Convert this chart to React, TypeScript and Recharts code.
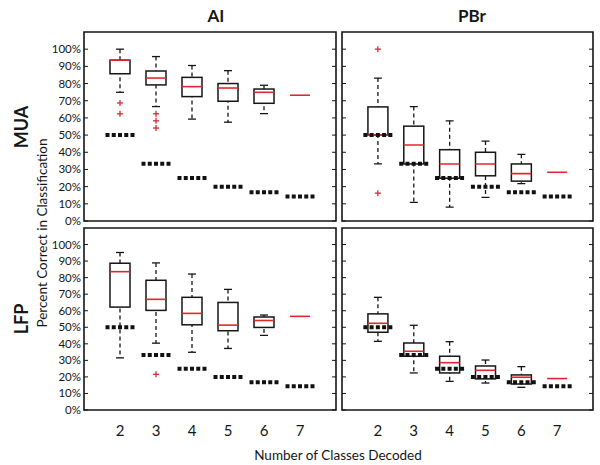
import React from 'react';
import { ComposedChart, Bar, Scatter, XAxis, YAxis, ReferenceArea } from 'recharts';

// classes decoded (x positions)
const classes = [2, 3, 4, 5, 6, 7];
// chance level for each number of classes
const chanceLevel = [0.5, 0.333, 0.25, 0.2, 0.167, 0.143];
const yTicks = [0, 0.1, 0.2, 0.3, 0.4, 0.5, 0.6, 0.7, 0.8, 0.9, 1.0];
const xTicks = [2, 3, 4, 5, 6, 7];

// MUA / AI
const muaAiLow = [0.749, 0.666, 0.593, 0.575, 0.625, null];
const muaAiQ1 = [0.857, 0.792, 0.724, 0.697, 0.685, null];
const muaAiMed = [0.936, 0.832, 0.782, 0.774, 0.749, 0.732];
const muaAiQ3 = [0.936, 0.873, 0.836, 0.8, 0.768, null];
const muaAiHigh = [1.0, 0.957, 0.905, 0.875, 0.79, null];
const muaAiOut = [
    { cls: 2, v: 0.687 }, { cls: 2, v: 0.624 },
    { cls: 3, v: 0.624 }, { cls: 3, v: 0.583 }, { cls: 3, v: 0.541 },
];

// MUA / PBr
const muaPbrLow = [0.332, 0.108, 0.081, 0.137, 0.218, null];
const muaPbrQ1 = [0.5, 0.332, 0.249, 0.263, 0.232, null];
const muaPbrMed = [0.5, 0.442, 0.332, 0.332, 0.276, 0.284];
const muaPbrQ3 = [0.664, 0.552, 0.415, 0.4, 0.332, null];
const muaPbrHigh = [0.832, 0.666, 0.583, 0.465, 0.388, null];
const muaPbrOut = [{ cls: 2, v: 1.0 }, { cls: 2, v: 0.162 }];

// LFP / AI
const lfpAiLow = [0.315, 0.404, 0.349, 0.372, 0.451, null];
const lfpAiQ1 = [0.622, 0.602, 0.515, 0.479, 0.499, null];
const lfpAiMed = [0.836, 0.669, 0.584, 0.513, 0.541, 0.566];
const lfpAiQ3 = [0.887, 0.784, 0.681, 0.65, 0.562, null];
const lfpAiHigh = [0.952, 0.889, 0.822, 0.729, 0.574, null];
const lfpAiOut = [{ cls: 3, v: 0.216 }];

// LFP / PBr
const lfpPbrLow = [0.415, 0.224, 0.173, 0.163, 0.137, null];
const lfpPbrQ1 = [0.47, 0.325, 0.224, 0.188, 0.157, null];
const lfpPbrMed = [0.524, 0.355, 0.286, 0.24, 0.198, 0.19];
const lfpPbrQ3 = [0.581, 0.405, 0.325, 0.266, 0.212, null];
const lfpPbrHigh = [0.681, 0.512, 0.413, 0.302, 0.262, null];
const lfpPbrOut: { cls: number; v: number }[] = [];

const FONT = 'Lato, "Open Sans", sans-serif';
const INK = '#161616';
const RED = '#e3262d';

type Num = number | null;

const makeRows = (low: Num[], q1: Num[], med: Num[], q3: Num[], high: Num[]) =>
    classes.map((cls, i) => ({
        cls,
        whisker: low[i] == null ? null : [low[i], high[i]],
        box: q1[i] == null ? null : [q1[i], q3[i]],
        med: med[i],
        chance: chanceLevel[i],
    }));

const Whisker = (p: any) => {
    const { x, y, width, height } = p;
    if (![x, y, width, height].every((n) => Number.isFinite(n))) return null;
    const top = Math.min(y, y + height);
    const bot = Math.max(y, y + height);
    const cx = x + width / 2;
    return (
        <g>
            <line x1={cx} x2={cx} y1={top} y2={bot} stroke={INK} strokeWidth={1.3} strokeDasharray="4 3" />
            <line x1={x} x2={x + width} y1={top} y2={top} stroke={INK} strokeWidth={1.3} />
            <line x1={x} x2={x + width} y1={bot} y2={bot} stroke={INK} strokeWidth={1.3} />
        </g>
    );
};

const Box = (p: any) => {
    const { x, y, width, height } = p;
    if (![x, y, width, height].every((n) => Number.isFinite(n))) return null;
    return (
        <rect x={x} y={Math.min(y, y + height)} width={width} height={Math.abs(height)}
            fill="#fff" stroke={INK} strokeWidth={1.5} />
    );
};

const Median = (p: any) => {
    const { cx, cy } = p;
    if (!Number.isFinite(cy)) return null;
    return <line x1={cx - 10} x2={cx + 10} y1={cy} y2={cy} stroke={RED} strokeWidth={1.6} />;
};

const Chance = (p: any) => {
    const { cx, cy } = p;
    return <line x1={cx - 14.5} x2={cx + 14.5} y1={cy} y2={cy} stroke="#111" strokeWidth={4} strokeDasharray="4 2.25" />;
};

const Plus = (p: any) => {
    const { cx, cy } = p;
    return (
        <g stroke={RED} strokeWidth={1.3}>
            <line x1={cx - 3} x2={cx + 3} y1={cy} y2={cy} />
            <line x1={cx} x2={cx} y1={cy - 3} y2={cy + 3} />
        </g>
    );
};

const pct = (v: number) => `${Math.round(v * 100)}%`;

const TICK_GAP = 3;
// y tick: optional label outside, short tick mark pointing into the plot
const YTick = (p: any) => {
    const { x, y, payload, side, labels } = p;
    const ax = side === 'left' ? x + TICK_GAP : x - TICK_GAP;
    const inner = side === 'left' ? ax + 4 : ax - 4;
    return (
        <g>
            <line x1={ax} x2={inner} y1={y} y2={y} stroke={INK} strokeWidth={1} />
            {labels && (
                <text x={x} y={y} dy="0.35em" textAnchor="end" fontSize={11.5} fontFamily={FONT} fill={INK}>
                    {pct(payload.value)}
                </text>
            )}
        </g>
    );
};

interface PanelProps {
    rows: any[];
    outliers: { cls: number; v: number }[];
    left: number;
    top: number;
    width: number;
    height: number;
    yLabels: boolean;
    xLabels: boolean;
}

const Panel = ({ rows, outliers, left, top, width, height, yLabels, xLabels }: PanelProps) => (
    <div style={{ position: 'absolute', left, top }}>
        <ComposedChart width={width} height={height} data={rows}
            margin={{ top: 4, right: 4, bottom: xLabels ? 1 : 5, left: 4 }}>
            <XAxis xAxisId="m" dataKey="cls" type="number" domain={[1, 8]} ticks={xTicks} interval={0}
                height={xLabels ? 30 : 0} tick={xLabels ? { fill: INK, fontSize: 15, fontFamily: FONT } : false}
                tickLine={false} tickSize={0} tickMargin={15} axisLine={false} />
            <XAxis xAxisId="w" dataKey="cls" type="number" domain={[1, 8]} hide />
            <XAxis xAxisId="t" dataKey="cls" orientation="top" type="number" domain={[1, 8]} height={1}
                tick={false} tickLine={false} axisLine={false} />
            <YAxis yAxisId="l" type="number" domain={[0, 1.1]} ticks={yTicks} interval={0} allowDataOverflow
                width={yLabels ? 40 : 1} tickLine={false} tickSize={0} tickMargin={TICK_GAP} axisLine={false}
                tick={(props: any) => <YTick {...props} side="left" labels={yLabels} />} />
            <YAxis yAxisId="r" orientation="right" type="number" domain={[0, 1.1]} ticks={yTicks} interval={0}
                allowDataOverflow width={1} tickLine={false} tickSize={0} tickMargin={TICK_GAP} axisLine={false}
                tick={(props: any) => <YTick {...props} side="right" labels={false} />} />
            <ReferenceArea xAxisId="m" yAxisId="l" x1={1} x2={8} y1={0} y2={1.1}
                fill="none" stroke={INK} strokeWidth={1.6} />
            <Bar xAxisId="w" yAxisId="l" dataKey="whisker" barSize={8} shape={Whisker} isAnimationActive={false} />
            <Bar xAxisId="m" yAxisId="l" dataKey="box" barSize={20} shape={Box} isAnimationActive={false} />
            <Scatter xAxisId="m" yAxisId="l" dataKey="med" shape={Median} isAnimationActive={false} />
            <Scatter xAxisId="m" yAxisId="l" dataKey="chance" shape={Chance} isAnimationActive={false} />
            <Scatter xAxisId="m" yAxisId="l" data={outliers} dataKey="v" shape={Plus} isAnimationActive={false} />
        </ComposedChart>
    </div>
);

export default function App() {
    const muaAi = makeRows(muaAiLow, muaAiQ1, muaAiMed, muaAiQ3, muaAiHigh);
    const muaPbr = makeRows(muaPbrLow, muaPbrQ1, muaPbrMed, muaPbrQ3, muaPbrHigh);
    const lfpAi = makeRows(lfpAiLow, lfpAiQ1, lfpAiMed, lfpAiQ3, lfpAiHigh);
    const lfpPbr = makeRows(lfpPbrLow, lfpPbrQ1, lfpPbrMed, lfpPbrQ3, lfpPbrHigh);

    return (
        <div style={{ position: 'absolute', left: 0, top: 0, width: 600, height: 465, background: '#fff', fontFamily: FONT }}>
            <svg width={600} height={465} style={{ position: 'absolute', left: 0, top: 0 }}>
                <g fill={INK} fontFamily={FONT}>
                    <text x={216} y={22} fontSize={17} fontWeight={700} textAnchor="middle">AI</text>
                    <text x={472} y={22} fontSize={17} fontWeight={700} textAnchor="middle">PBr</text>
                    <text transform="translate(28,127) rotate(-90)" fontSize={18} fontWeight={700} textAnchor="middle">MUA</text>
                    <text transform="translate(28,319) rotate(-90)" fontSize={18} fontWeight={700} textAnchor="middle">LFP</text>
                    <text transform="translate(47,233) rotate(-90)" fontSize={13.5} textAnchor="middle">Percent Correct in Classification</text>
                    <text x={338} y={460} fontSize={13.5} textAnchor="middle">Number of Classes Decoded</text>
                </g>
            </svg>
            <Panel rows={muaAi} outliers={muaAiOut} left={40} top={27} width={301} height={199} yLabels xLabels={false} />
            <Panel rows={muaPbr} outliers={muaPbrOut} left={337} top={27} width={261} height={199} yLabels={false} xLabels={false} />
            <Panel rows={lfpAi} outliers={lfpAiOut} left={40} top={223} width={301} height={218} yLabels xLabels />
            <Panel rows={lfpPbr} outliers={lfpPbrOut} left={337} top={223} width={261} height={218} yLabels={false} xLabels />
        </div>
    );
}
